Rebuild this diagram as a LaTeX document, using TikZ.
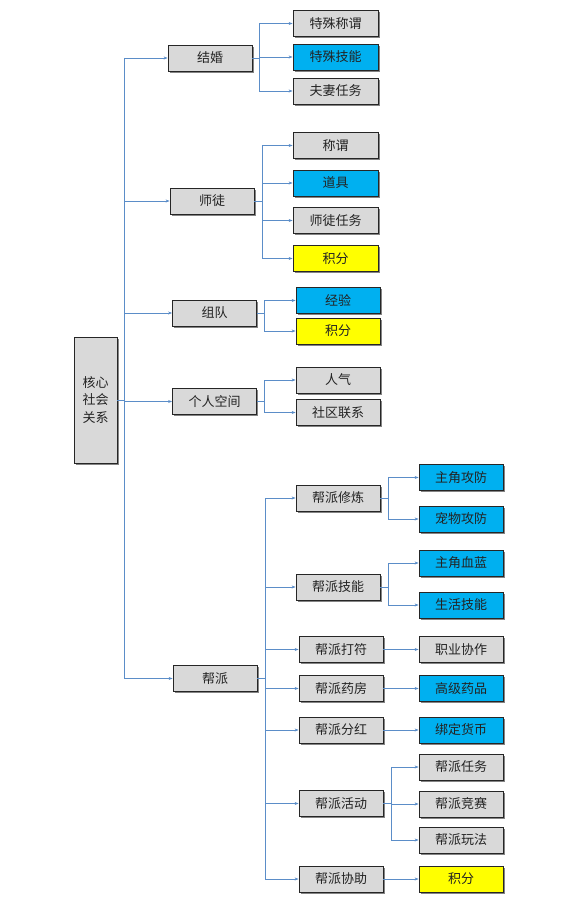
\documentclass[tikz,border=0pt]{standalone}
\usepackage{fontspec}
\setmainfont{Noto Sans CJK SC}
\usetikzlibrary{shadows,arrows.meta}
\definecolor{linec}{RGB}{91,141,200}
\definecolor{boxgray}{RGB}{217,217,217}
\definecolor{boxblue}{RGB}{0,176,240}
\definecolor{boxyellow}{RGB}{255,255,0}
\definecolor{txt}{RGB}{35,35,35}
\tikzset{
  box/.style={draw=black!85, line width=0.8pt, fill=boxgray, minimum width=84pt, minimum height=26pt,
    inner sep=0pt, text=txt, font=\fontsize{13}{14}\selectfont,
    drop shadow={shadow xshift=1.6pt, shadow yshift=-1.6pt, fill=black!60, opacity=0.8}},
  blue/.style={fill=boxblue},
  yel/.style={fill=boxyellow},
  conn/.style={draw=linec, line width=0.8pt},
  arr/.style={conn, -{Stealth[length=4pt,width=3pt]}}
}
\begin{document}
\begin{tikzpicture}[x=1pt,y=-1pt]
\useasboundingbox[fill=white] (0,0) rectangle (587,901);
% root
\node[box, minimum width=43pt, minimum height=126pt, align=center,
  font=\fontsize{13}{17.5}\selectfont] (root) at (95.5,400) {核心\\社会\\关系};
% level 1
\node[box] (jh) at (210,58) {结婚};
\node[box] (st) at (212,201) {师徒};
\node[box] (zd) at (214.5,313) {组队};
\node[box] (gr) at (214.5,401.5) {个人空间};
\node[box] (bp) at (215,678.5) {帮派};
% 结婚 children
\node[box, minimum width=85pt] (jh1) at (335.5,23.5) {特殊称谓};
\node[box, minimum width=85pt, blue] (jh2) at (335.5,57) {特殊技能};
\node[box, minimum width=85pt] (jh3) at (335.5,91) {夫妻任务};
% 师徒 children
\node[box, minimum width=85pt] (st1) at (335.5,145.5) {称谓};
\node[box, minimum width=85pt, blue] (st2) at (335.5,183) {道具};
\node[box, minimum width=85pt] (st3) at (335.5,220.5) {师徒任务};
\node[box, minimum width=85pt, yel] (st4) at (335.5,258.5) {积分};
% 组队 children
\node[box, blue] (zd1) at (338,300.5) {经验};
\node[box, yel] (zd2) at (338,331) {积分};
% 个人空间 children
\node[box] (gr1) at (338,380) {人气};
\node[box] (gr2) at (338,412.5) {社区联系};
% 帮派 children
\node[box] (b1) at (338,498) {帮派修炼};
\node[box] (b2) at (338,587) {帮派技能};
\node[box] (b3) at (341,649.5) {帮派打符};
\node[box] (b4) at (341,688.5) {帮派药房};
\node[box] (b5) at (341,730) {帮派分红};
\node[box] (b6) at (341,803.5) {帮派活动};
\node[box] (b7) at (341,879) {帮派协助};
% level 3
\node[box, blue] (c1) at (461,477.5) {主角攻防};
\node[box, blue] (c2) at (461,519) {宠物攻防};
\node[box, blue] (c3) at (461,563) {主角血蓝};
\node[box, blue] (c4) at (461,605) {生活技能};
\node[box] (c5) at (461,649.5) {职业协作};
\node[box, blue] (c6) at (461,688.5) {高级药品};
\node[box, blue] (c7) at (461,730) {绑定货币};
\node[box] (c8) at (461,767) {帮派任务};
\node[box] (c9) at (461,804) {帮派竞赛};
\node[box] (c10) at (461,840) {帮派玩法};
\node[box, yel] (c11) at (461,879) {积分};
% branch coordinates
\coordinate (tr) at (124,400);
\coordinate (bjh) at (259,58);
\coordinate (bst) at (262,201);
\coordinate (bzd) at (264,313);
\coordinate (bgr) at (264,401.5);
\coordinate (bbp) at (265,678.5);
\coordinate (bb1) at (388,498);
\coordinate (bb2) at (388,587);
\coordinate (bb6) at (391,803.5);
% trunk
\draw[conn] (root.east) -- (tr);
\draw[conn] (124,58) -- (124,678.5);
\foreach \n in {jh,st,zd,gr,bp} \draw[arr] (tr) |- (\n.west);
% 结婚
\draw[conn] (jh.east) -- (bjh);
\foreach \n in {jh1,jh2,jh3} \draw[arr] (bjh) |- (\n.west);
% 师徒
\draw[conn] (st.east) -- (bst);
\foreach \n in {st1,st2,st3,st4} \draw[arr] (bst) |- (\n.west);
% 组队
\draw[conn] (zd.east) -- (bzd);
\foreach \n in {zd1,zd2} \draw[arr] (bzd) |- (\n.west);
% 个人空间
\draw[conn] (gr.east) -- (bgr);
\foreach \n in {gr1,gr2} \draw[arr] (bgr) |- (\n.west);
% 帮派
\draw[conn] (bp.east) -- (bbp);
\foreach \n in {b1,b2,b3,b4,b5,b6,b7} \draw[arr] (bbp) |- (\n.west);
\draw[conn] (b1.east) -- (bb1);
\foreach \n in {c1,c2} \draw[arr] (bb1) |- (\n.west);
\draw[conn] (b2.east) -- (bb2);
\foreach \n in {c3,c4} \draw[arr] (bb2) |- (\n.west);
\draw[arr] (b3.east) -- (c5.west);
\draw[arr] (b4.east) -- (c6.west);
\draw[arr] (b5.east) -- (c7.west);
\draw[conn] (b6.east) -- (bb6);
\foreach \n in {c8,c9,c10} \draw[arr] (bb6) |- (\n.west);
\draw[arr] (b7.east) -- (c11.west);
\end{tikzpicture}
\end{document}
